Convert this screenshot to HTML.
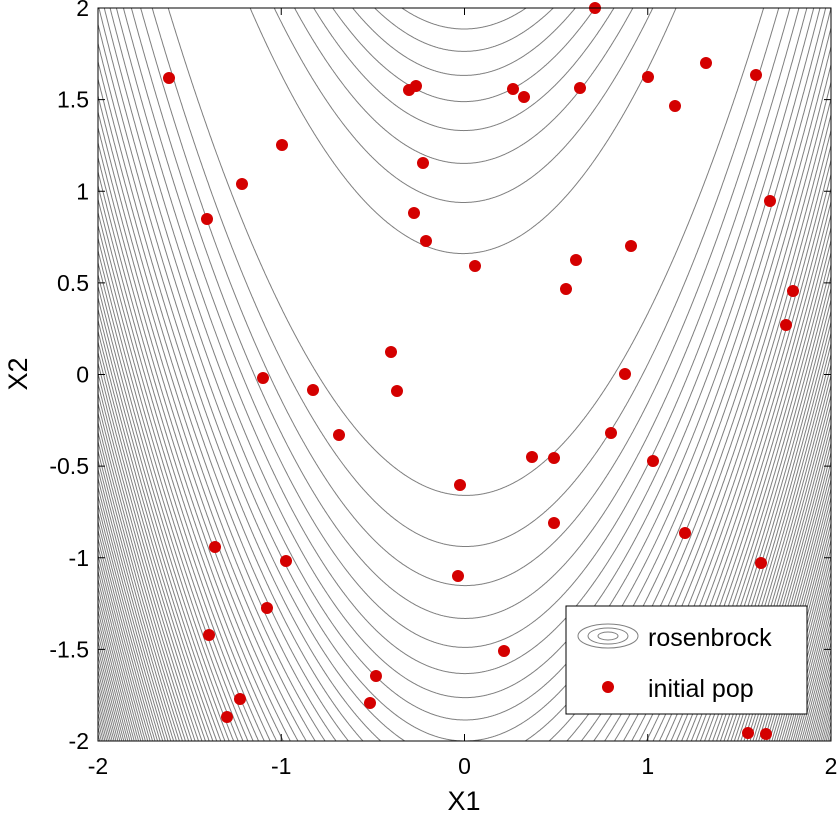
<!DOCTYPE html>
<html><head><meta charset="utf-8"><style>
html,body{margin:0;padding:0;background:#fff;width:838px;height:815px;overflow:hidden;}
svg{display:block;overflow:hidden;}
svg text{font-family:"Liberation Sans",Arial,sans-serif;}
</style></head><body>
<svg id="s" width="838" height="815" xmlns="http://www.w3.org/2000/svg">
<defs><clipPath id="c"><rect x="98" y="8" width="733" height="733"/></clipPath></defs>
<rect width="838" height="815" fill="#fff"/>
<g id="cont" clip-path="url(#c)" fill="none" stroke="#7f7f7f" stroke-width="1"></g>
<g id="pts" fill="#d40000"></g>
<rect x="98" y="8" width="733" height="733" fill="none" stroke="#000" stroke-width="1"/>
<g id="ticks" stroke="#000" stroke-width="1"></g>
<g id="lab" font-size="23" fill="#000"></g>
<text x="464" y="810" font-size="27" text-anchor="middle">X1</text>
<text x="0" y="0" font-size="27" text-anchor="middle" transform="translate(27,374) rotate(-90)">X2</text>
<rect x="566" y="606" width="241" height="108" fill="#fff" stroke="#000"/>
<g fill="none" stroke="#7f7f7f">
<ellipse cx="608" cy="636" rx="30" ry="12"/><ellipse cx="608" cy="636" rx="20" ry="8"/><ellipse cx="608" cy="636" rx="10" ry="4"/>
</g>
<text x="648" y="646" font-size="25">rosenbrock</text>
<circle cx="608" cy="687" r="6" fill="#d40000"/>
<text x="648" y="697" font-size="25">initial pop</text>
</svg>
<script>
var NS="http://www.w3.org/2000/svg";
var X0=464.5,Y0=374.5,S=183.25;
var g=document.getElementById("cont");
for(var k=1;k<=80;k++){var c=k*3609/81;
 [1,-1].forEach(function(sg){var d="";
  for(var x=-2.02;x<=2.02;x+=0.004){var v=c-(1-x)*(1-x);if(v<0)continue;
   var y=x*x+sg*Math.sqrt(v)/10;var py=Y0-y*S;
   if(py<0)py=0;if(py>750)py=750;
   d+=(d?"L":"M")+(X0+x*S).toFixed(1)+","+py.toFixed(1);}
  var p=document.createElementNS(NS,"path");p.setAttribute("d",d);g.appendChild(p);});}
var P=[[169,78],[595,8],[409,90],[416,86],[513,89],[524,97],[580,88],[648,77],[706,63],[756,75],[675,106],[282,145],[423,163],[242,184],[207,219],[414,213],[426,241],[475,266],[631,246],[770,201],[576,260],[566,289],[793,291],[786,325],[391,352],[263,378],[313,390],[397,391],[625,374],[339,435],[611,433],[532,457],[554,458],[653,461],[460,485],[554,523],[685,533],[215,547],[286,561],[458,576],[761,563],[267,608],[209,635],[504,651],[376,676],[240,699],[370,703],[227,717],[748,733],[766,734]];
var pg=document.getElementById("pts");
P.forEach(function(p){var e=document.createElementNS(NS,"circle");e.setAttribute("cx",p[0]);e.setAttribute("cy",p[1]);e.setAttribute("r",6);pg.appendChild(e);});
var t=document.getElementById("ticks"),l=document.getElementById("lab");
function ln(a,b,c2,d){var e=document.createElementNS(NS,"line");e.setAttribute("x1",a);e.setAttribute("y1",b);e.setAttribute("x2",c2);e.setAttribute("y2",d);t.appendChild(e);}
function tx(x,y,s,a){var e=document.createElementNS(NS,"text");e.setAttribute("x",x);e.setAttribute("y",y);e.setAttribute("text-anchor",a);e.textContent=s;l.appendChild(e);}
for(var i=-2;i<=2;i++){var px=X0+i*S;ln(px,741,px,734);ln(px,8,px,15);tx(px,774,String(i),"middle");}
for(var j=-4;j<=4;j++){var v=j/2,py=Y0-v*S;ln(98,py,105,py);ln(831,py,824,py);tx(89,py+8,String(v),"end");}
</script>
</body></html>
